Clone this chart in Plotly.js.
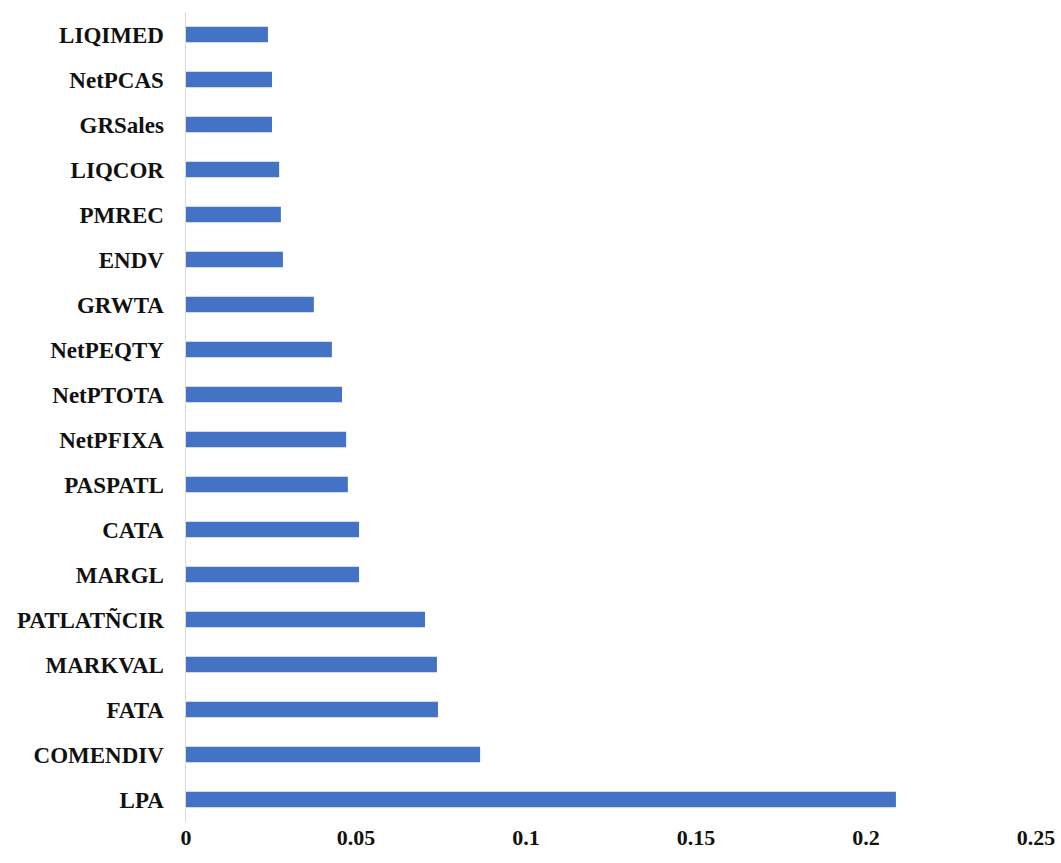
<!DOCTYPE html>
<html>
<head>
<meta charset="utf-8">
<script src="https://cdn.plot.ly/plotly-3.0.1.min.js"></script>
<style>html,body{margin:0;padding:0;background:#fff;}#chart{width:1061px;height:863px;}</style>
</head>
<body>
<div id="chart"></div>
<script>
const categories = ["LIQIMED","NetPCAS","GRSales","LIQCOR","PMREC","ENDV","GRWTA","NetPEQTY","NetPTOTA","NetPFIXA","PASPATL","CATA","MARGL","PATLATÑCIR","MARKVAL","FATA","COMENDIV","LPA"];
const importance = [0.0241,0.0253,0.0253,0.0274,0.0279,0.0285,0.0376,0.0429,0.0459,0.0471,0.0476,0.0509,0.0509,0.0703,0.0738,0.0741,0.0865,0.2088];
const xTicks = [0,0.05,0.1,0.15,0.2,0.25];
const xTickText = ["0","0.05","0.1","0.15","0.2","0.25"];

const font = {family: "Liberation Serif, Times New Roman, serif", size: 23, color: "#111"};

Plotly.newPlot("chart", [{
  type: "bar",
  orientation: "h",
  x: importance,
  y: categories,
  width: 0.34,
  marker: {color: "#4472C4"},
  hoverinfo: "x+y"
}], {
  width: 1061, height: 863,
  margin: {l: 186, r: 25, t: 12, b: 41},
  paper_bgcolor: "#fff", plot_bgcolor: "#fff",
  showlegend: false,
  font: font,
  xaxis: {
    range: [0, 0.25],
    tickvals: xTicks, ticktext: xTickText,
    showgrid: false, zeroline: false, showline: false,
    ticks: "",
    tickfont: {family: font.family, size: 22, color: "#111", weight: "bold"}
  },
  yaxis: {
    type: "category",
    autorange: "reversed",
    showgrid: false, zeroline: false,
    showline: true, linecolor: "#d9d9d9", linewidth: 1.5,
    ticks: "",
    ticklabelstandoff: 16,
    tickfont: {family: font.family, size: 23, color: "#111", weight: "bold"}
  }
}, {staticPlot: true});
</script>
</body>
</html>
